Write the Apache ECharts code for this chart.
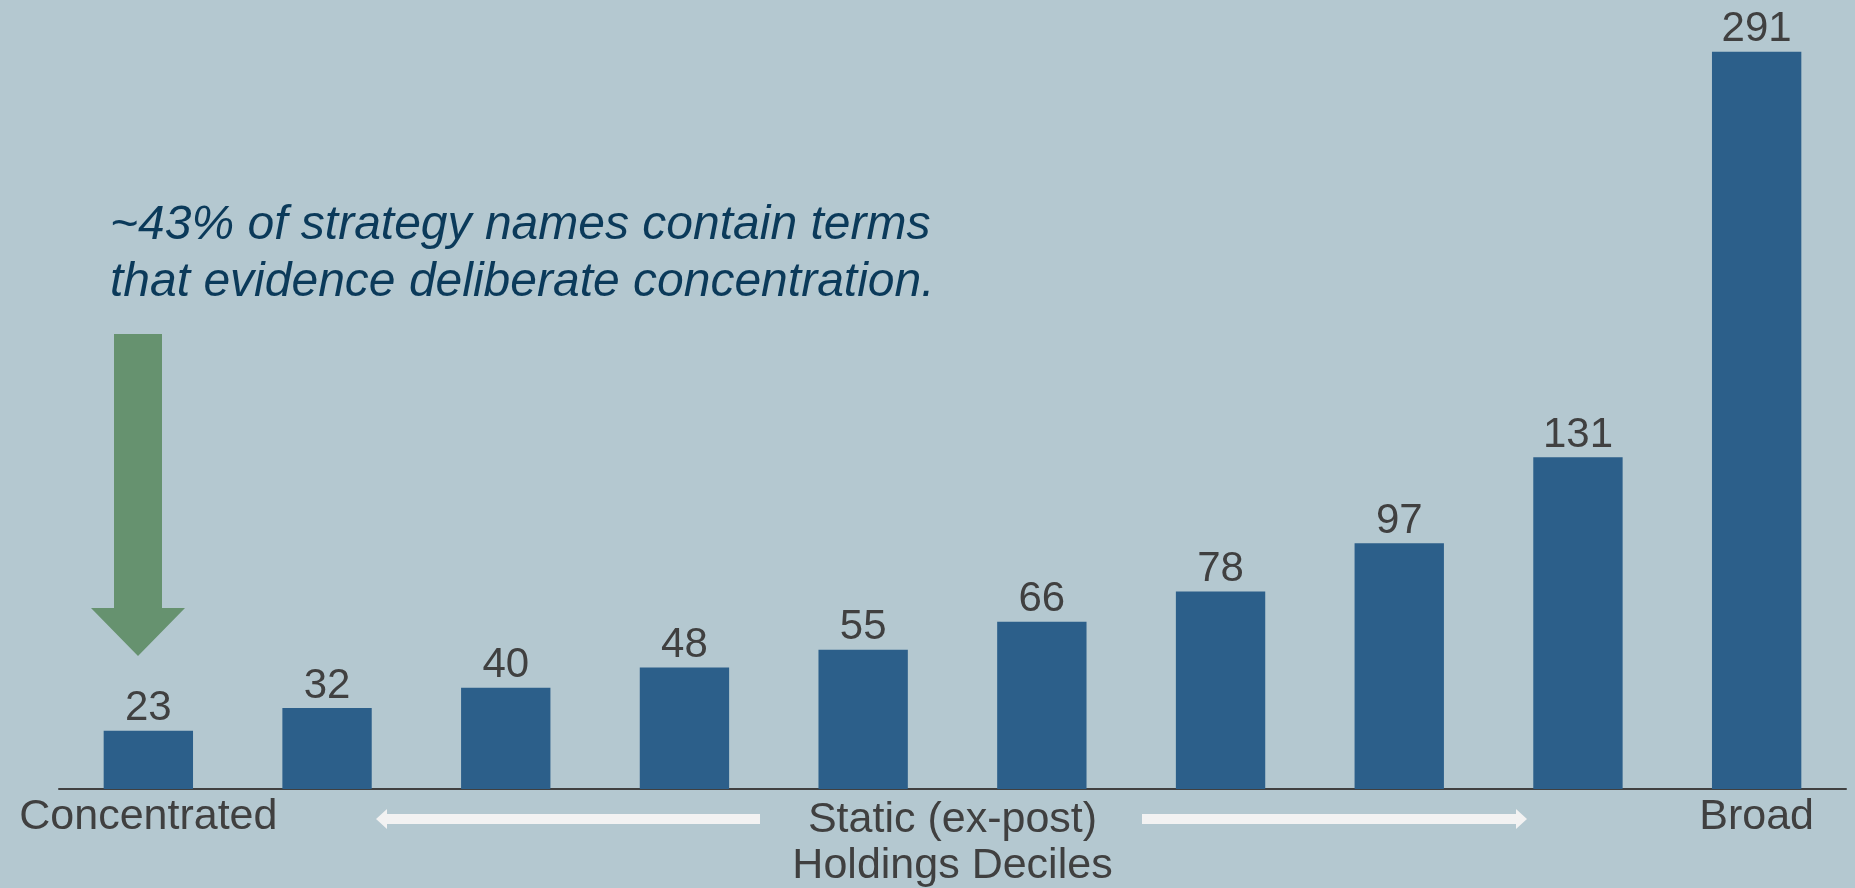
<!DOCTYPE html>
<html>
<head>
<meta charset="utf-8">
<title>Strategies by holdings decile</title>
<script src="https://cdn.jsdelivr.net/npm/echarts@6/dist/echarts.min.js"></script>
<style>
  html, body { margin: 0; padding: 0; background: #b4c8d0; }
  #chart { width: 1855px; height: 888px; }
</style>
</head>
<body>
<div id="chart"></div>
<script>
// Holdings deciles, from most concentrated (1) to broadest (10)
const deciles = ['1', '2', '3', '4', '5', '6', '7', '8', '9', '10'];
// Number of strategies in each decile
const counts = [23, 32, 40, 48, 55, 66, 78, 97, 131, 291];
// Labels shown under the axis (only the two ends are named)
const tickLabels = ['Concentrated', '', '', '', '', '', '', '', '', 'Broad'];
const axisTitle = 'Static (ex-post)\nHoldings Deciles';
const noteLines = [
  '~43% of strategy names contain terms',
  'that evidence deliberate concentration.'
];

const FONT = "'Liberation Sans', Arial, sans-serif";
const chart = echarts.init(document.getElementById('chart'));

chart.setOption({
  backgroundColor: '#b4c8d0',
  animation: false,
  grid: { left: 59, right: 9, top: 29, bottom: 99, outerBoundsMode: 'none', containLabel: false },
  xAxis: {
    type: 'category',
    data: deciles,
    axisLine: { show: true, lineStyle: { color: '#404040', width: 2 } },
    axisTick: { show: false },
    axisLabel: {
      interval: 0,
      margin: 8,
      color: '#404040',
      fontFamily: FONT,
      fontSize: 43,
      lineHeight: 40,
      formatter: (v, i) => tickLabels[i]
    },
    name: axisTitle,
    nameLocation: 'middle',
    nameGap: 8,
    nameMoveOverlap: false,
    nameTextStyle: {
      color: '#404040',
      fontFamily: FONT,
      fontSize: 43,
      lineHeight: 46,
      verticalAlign: 'top'
    }
  },
  yAxis: {
    type: 'value',
    min: 0,
    max: 300,
    show: false
  },
  series: [{
    type: 'bar',
    data: counts,
    barWidth: '50%',
    itemStyle: { color: '#2c5f8a' },
    label: {
      show: true,
      position: 'top',
      distance: 1,
      color: '#404040',
      fontFamily: FONT,
      fontSize: 42
    }
  }],
  graphic: [
    // annotation text
    {
      type: 'text', x: 110, y: 226,
      style: {
        text: noteLines[0], fill: '#0b3a5a',
        font: 'italic 48px ' + FONT, verticalAlign: 'middle', align: 'left'
      }
    },
    {
      type: 'text', x: 110, y: 283,
      style: {
        text: noteLines[1], fill: '#0b3a5a',
        font: 'italic 48px ' + FONT, verticalAlign: 'middle', align: 'left'
      }
    },
    // green arrow pointing down at the first decile
    {
      type: 'polygon',
      shape: { points: [[114, 334], [162, 334], [162, 608], [185, 608], [138, 656], [91, 608], [114, 608]] },
      style: { fill: '#66926f' }
    },
    // direction arrows beside the axis title
    {
      type: 'polygon',
      shape: { points: [[376, 819], [387, 809], [387, 814], [760, 814], [760, 824], [387, 824], [387, 829]] },
      style: { fill: '#f2f2f2' }
    },
    {
      type: 'polygon',
      shape: { points: [[1527, 819], [1516, 809], [1516, 814], [1142, 814], [1142, 824], [1516, 824], [1516, 829]] },
      style: { fill: '#f2f2f2' }
    }
  ]
});
</script>
</body>
</html>
